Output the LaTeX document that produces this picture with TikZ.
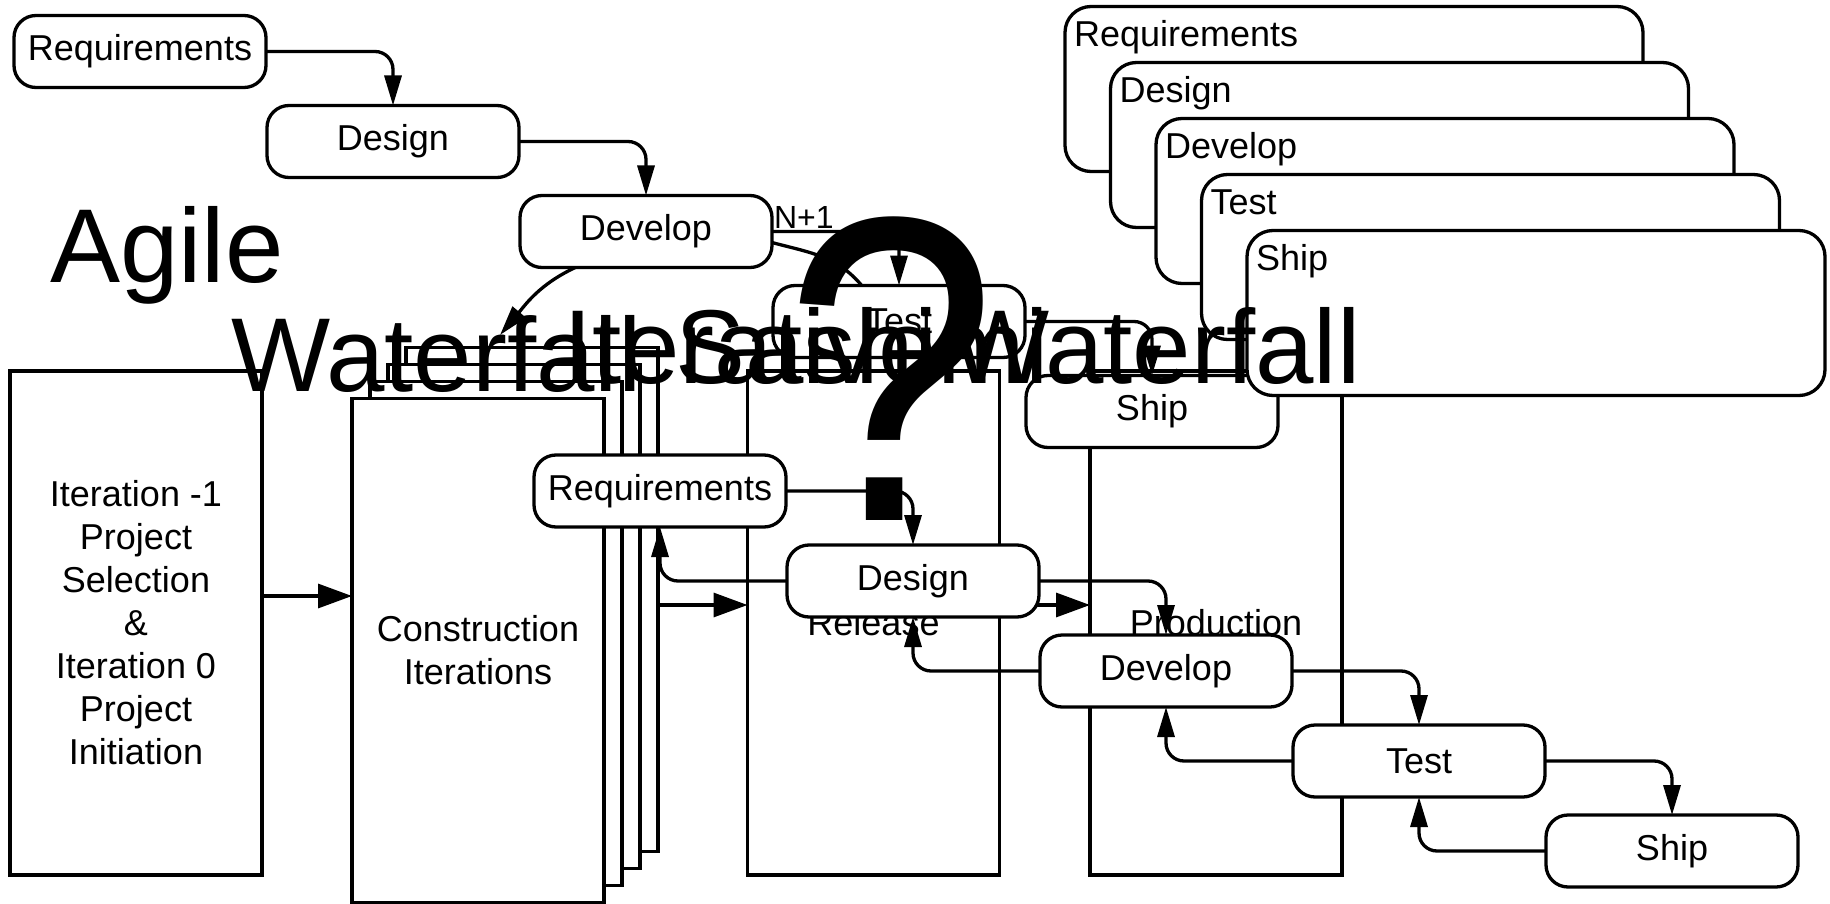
\documentclass[tikz,border=0pt]{standalone}
\usepackage{fontspec}
\setmainfont{Liberation Sans}
\usetikzlibrary{arrows.meta,positioning}

\begin{document}
\begin{tikzpicture}[x=1pt,y=1pt,line width=3.3pt,outer sep=0pt,node distance=18pt and 1pt,
	phase/.style={draw,fill=white,rounded corners=22pt,minimum width=252pt,minimum height=72pt,inner sep=0pt,font=\fontsize{36}{43}\selectfont},
	stage/.style={draw,fill=white,minimum width=252pt,minimum height=504pt,inner sep=0pt,align=center,font=\fontsize{36}{43}\selectfont},
	card/.style={draw,fill=white,rounded corners=26pt,minimum width=578pt,minimum height=165pt},
	cardlabel/.style={anchor=base west,inner sep=0pt,font=\fontsize{36}{43}\selectfont},
	title/.style={anchor=base west,inner sep=0pt,font=\fontsize{105}{110}\selectfont},
	flow/.style={-{Triangle[length=30pt,width=17pt]},rounded corners=18pt},
	push/.style={-{Triangle[length=34pt,width=24pt]}}]
	\useasboundingbox (0,0) rectangle (1830,-904);
	\fill[white] (0,0) rectangle (1830,-904);

	% stages
	\node[stage] (itbox) at (136,-623) {Iteration -1\\Project\\Selection\\\&\\Iteration 0\\Project\\Initiation};
	\foreach \k in {3,2,1}
		\node[stage] (cons\k) at (478+18*\k,-650.5+17*\k) {};
	\node[stage] (cons0) at (478,-650.5) {Construction\\Iterations};
	\node[stage] (rel) at (873.5,-623) {Release};
	\node[stage] (prod) at (1216,-623) {Production};
	\draw[push] ([yshift=27pt]itbox.east) -- ([yshift=54.5pt]cons0.west);
	\draw[push] ([yshift=-5.5pt]cons3.east) -- ([yshift=18pt]rel.west);
	\draw[push] ([yshift=18pt]rel.east) -- ([yshift=18pt]prod.west);

	% waterfall, top
	\node[phase] (req1) at (140,-51.5) {Requirements};
	\node[phase,below right=of req1] (des1) {Design};
	\node[phase,below right=of des1] (dev1) {Develop};
	\node[phase,below right=of dev1] (test1) {Test};
	\node[phase,below right=of test1] (ship1) {Ship};
	\draw[flow] (req1.east) -| (des1.north);
	\draw[flow] (des1.east) -| (dev1.north);
	\draw[flow] (dev1.east) -| (test1.north);
	\draw[flow] (test1.east) -| (ship1.north);
	\node[anchor=base west,inner sep=0pt,font=\fontsize{32}{36}\selectfont] (next) at ([shift={(2pt,3pt)}]dev1.east) {N+1};
	\coordinate (back) at (500,-335);
	\draw[-{Triangle[length=30pt,width=17pt]}] (dev1.207) to[out=205,in=50] (back);
	\draw (dev1.-5) to[out=-15,in=130] (test1.136);

	% phases as layers
	\foreach \name/\lbl [count=\i from 0] in {req/Requirements,des/Design,dev/Develop,test/Test,ship/Ship}{
		\node[card] (card\name) at (1354+45.5*\i,-89-56*\i) {};
		\node[cardlabel] (label\name) at ([shift={(9pt,-40pt)}]card\name.north west) {\lbl};
	}

	% waterfall with feedback
	\node[phase] (req2) at (660,-491) {Requirements};
	\node[phase,below right=of req2] (des2) {Design};
	\node[phase,below right=of des2] (dev2) {Develop};
	\node[phase,below right=of dev2] (test2) {Test};
	\node[phase,below right=of test2] (ship2) {Ship};
	\foreach \a/\b in {req2/des2,des2/dev2,dev2/test2,test2/ship2}{
		\draw[flow] (\a.east) -| (\b.north);
		\draw[flow] (\b.west) -| (\a.south);
	}

	% titles
	\node[title] (agile) at (50,-282) {Agile};
	\node[title] (waterfall) at (231,-391) {Waterfall};
	\node[title] (iterative) at (563,-383) {Iterative};
	\node[title] (sashimi) at (675,-383) {Sashimi};
	\node[title] (waterfall2) at (950,-383) {Waterfall};
	\node[anchor=base west,inner sep=0pt,font=\fontsize{435}{435}\selectfont] (query) at (784,-520) {\scalebox{0.88}[1]{?}};
\end{tikzpicture}
\end{document}
